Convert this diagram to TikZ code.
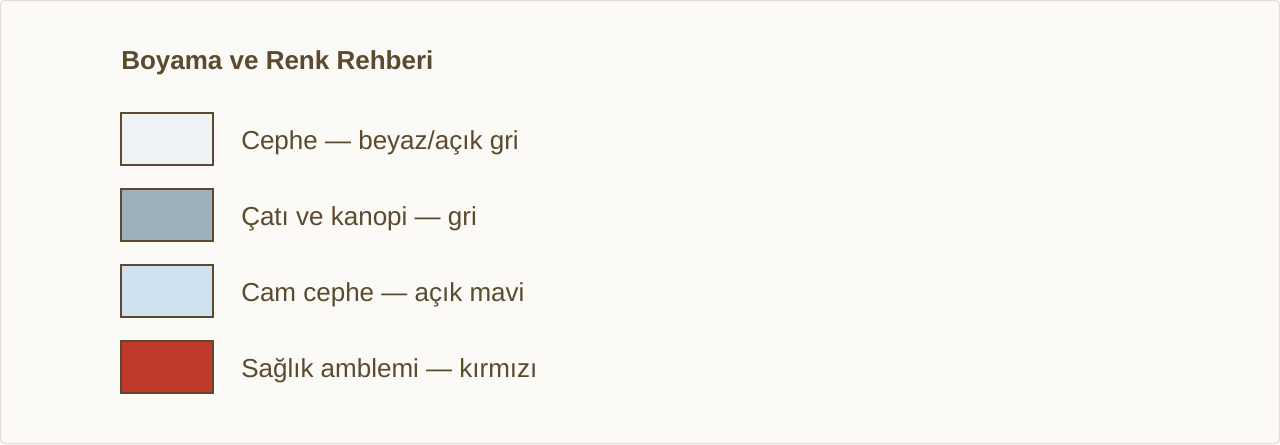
\documentclass[tikz,border=0pt]{standalone}
\usepackage{fontspec}
\setmainfont{Liberation Sans}
\definecolor{bg}{HTML}{FBFAF6}
\definecolor{frame}{HTML}{E2DED2}
\definecolor{ink}{HTML}{5B4A2E}
\definecolor{cfacade}{HTML}{EEF2F5}
\definecolor{croof}{HTML}{9EB0BC}
\definecolor{cglass}{HTML}{CFE1EF}
\definecolor{cred}{HTML}{C0392B}
\begin{document}
\begin{tikzpicture}[x=0.75pt,y=-0.75pt,
  swatch/.style={draw=ink,line width=1.5pt,minimum width=90\pgflinewidth,inner sep=0pt,outer sep=0pt},
  lbl/.style={anchor=base west,text=ink,font=\fontsize{19.5pt}{23pt}\selectfont,inner sep=0pt},
  ttl/.style={anchor=base west,text=ink,font=\fontsize{19.5pt}{23pt}\selectfont\bfseries,inner sep=0pt}]
\useasboundingbox (0,0) rectangle (1280,444);
\draw[fill=bg,draw=frame,line width=0.75pt,rounded corners=3pt] (0.5,0.5) rectangle (1279.5,443.5);
\node[ttl] (title) at (121,69.5) {Boyama ve Renk Rehberi};
\foreach \i/\c/\t in {0/cfacade/{Cephe — beyaz/açık gri},1/croof/{Çatı ve kanopi — gri},2/cglass/{Cam cephe — açık mavi},3/cred/{Sağlık amblemi — kırmızı}}{
  \draw[draw=ink,line width=1.5pt,fill=\c] (121,113+76*\i) rectangle (213,165+76*\i);
  \node[lbl] (l\i) at (241,149+76*\i) {\t};
}
\end{tikzpicture}
\end{document}
